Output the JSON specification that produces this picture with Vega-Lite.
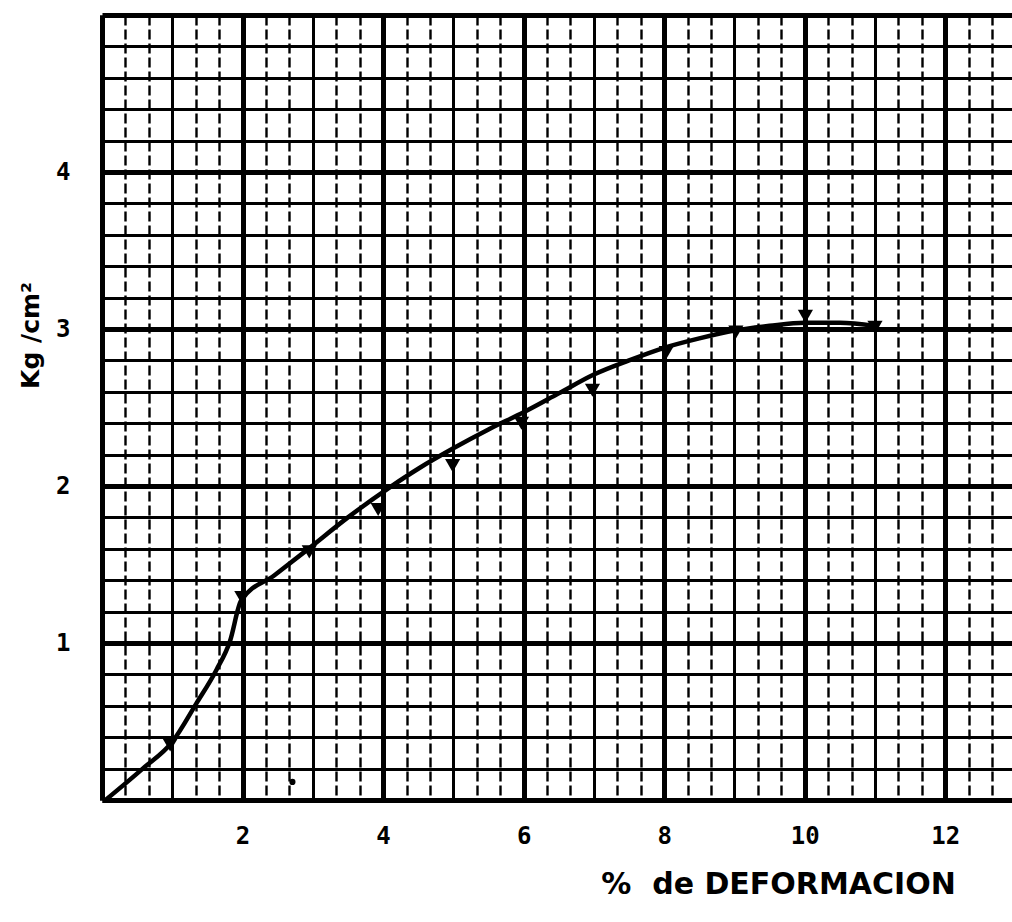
{
  "$schema": "https://vega.github.io/schema/vega-lite/v6.json",
  "width": 910,
  "height": 785,
  "autosize": {"type": "none"},
  "padding": {"left": 102, "top": 15, "right": 0, "bottom": 122},
  "background": "white",
  "config": {"view": {"stroke": null}},
  "datasets": {
    "curve": [
      {"x": 0.05, "y": 0.0},
      {"x": 0.58, "y": 0.2},
      {"x": 1.0, "y": 0.37},
      {"x": 1.35, "y": 0.62},
      {"x": 1.63, "y": 0.83},
      {"x": 1.82, "y": 1.01},
      {"x": 1.98, "y": 1.27},
      {"x": 2.45, "y": 1.43},
      {"x": 2.91, "y": 1.59},
      {"x": 3.5, "y": 1.8},
      {"x": 4.09, "y": 1.99},
      {"x": 4.5, "y": 2.11},
      {"x": 5.0, "y": 2.24},
      {"x": 5.5, "y": 2.36},
      {"x": 6.0, "y": 2.47},
      {"x": 6.5, "y": 2.59},
      {"x": 7.0, "y": 2.71},
      {"x": 7.5, "y": 2.8},
      {"x": 8.0, "y": 2.88},
      {"x": 8.5, "y": 2.94},
      {"x": 9.0, "y": 2.99},
      {"x": 9.5, "y": 3.02},
      {"x": 10.0, "y": 3.04},
      {"x": 10.5, "y": 3.04},
      {"x": 11.0, "y": 3.02}
    ],
    "points": [
      {"x": 0.97, "y": 0.35},
      {"x": 1.99, "y": 1.29},
      {"x": 2.95, "y": 1.58},
      {"x": 3.93, "y": 1.85},
      {"x": 4.99, "y": 2.13},
      {"x": 5.97, "y": 2.4},
      {"x": 6.98, "y": 2.61},
      {"x": 8.03, "y": 2.85},
      {"x": 9.02, "y": 2.98},
      {"x": 10.01, "y": 3.08},
      {"x": 11.0, "y": 3.01}
    ],
    "stray": [
      {"x": 2.71, "y": 0.115}
    ]
  },
  "layer": [
    {
      "data": {"name": "curve"},
      "mark": {"type": "line", "color": "black", "strokeWidth": 4.5, "interpolate": "monotone"},
      "encoding": {
        "x": {
          "field": "x",
          "type": "quantitative",
          "scale": {"domain": [0, 12.95], "nice": false, "zero": false},
          "axis": {
            "values": [0, 0.3333, 0.6667, 1, 1.3333, 1.6667, 2, 2.3333, 2.6667, 3, 3.3333, 3.6667, 4, 4.3333, 4.6667, 5, 5.3333, 5.6667, 6, 6.3333, 6.6667, 7, 7.3333, 7.6667, 8, 8.3333, 8.6667, 9, 9.3333, 9.6667, 10, 10.3333, 10.6667, 11, 11.3333, 11.6667, 12, 12.3333, 12.6667],
            "tickCount": 200,
            "grid": true,
            "gridColor": "black",
            "gridOpacity": 1,
            "gridWidth": {
              "condition": [
                {"test": "abs(datum.value/2 - round(datum.value/2)) < 0.01", "value": 5},
                {"test": "abs(datum.value - round(datum.value)) < 0.01", "value": 3}
              ],
              "value": 2.4
            },
            "gridDash": {
              "condition": {"test": "abs(datum.value - round(datum.value)) < 0.01", "value": []},
              "value": [10, 4]
            },
            "ticks": false,
            "domain": true,
            "domainColor": "black",
            "domainWidth": 5,
            "labelExpr": "(abs(datum.value/2 - round(datum.value/2)) < 0.01 && datum.value > 0.5) ? '' + round(datum.value) : ''",
            "labelOverlap": false,
            "labelFlush": false,
            "labelBound": false,
            "labelPadding": 24,
            "labelFont": "DejaVu Sans Mono",
            "labelFontWeight": "bold",
            "labelFontSize": 24,
            "labelColor": "black",
            "title": "%\u00a0 de DEFORMACION",
            "titleFont": "DejaVu Sans",
            "titleFontWeight": "bold",
            "titleFontSize": 30,
            "titleColor": "black",
            "titleX": 676,
            "titleY": 93,
            "titleAlign": "center",
            "titleBaseline": "alphabetic"
          }
        },
        "y": {
          "field": "y",
          "type": "quantitative",
          "scale": {"domain": [0, 5], "nice": false, "zero": false},
          "axis": {
            "values": [0, 0.2, 0.4, 0.6, 0.8, 1, 1.2, 1.4, 1.6, 1.8, 2, 2.2, 2.4, 2.6, 2.8, 3, 3.2, 3.4, 3.6, 3.8, 4, 4.2, 4.4, 4.6, 4.8, 5],
            "tickCount": 200,
            "grid": true,
            "gridColor": "black",
            "gridOpacity": 1,
            "gridWidth": {
              "condition": {"test": "abs(datum.value - round(datum.value)) < 0.01", "value": 5},
              "value": 3
            },
            "ticks": false,
            "domain": true,
            "domainColor": "black",
            "domainWidth": 5,
            "labelExpr": "(abs(datum.value - round(datum.value)) < 0.01 && datum.value > 0.5 && datum.value < 4.5) ? '' + round(datum.value) : ''",
            "labelOverlap": false,
            "labelFlush": false,
            "labelBound": false,
            "labelPadding": 32,
            "labelFont": "DejaVu Sans Mono",
            "labelFontWeight": "bold",
            "labelFontSize": 24,
            "labelColor": "black",
            "title": "Kg /cm²",
            "titleFont": "DejaVu Sans",
            "titleFontWeight": "bold",
            "titleFontSize": 25,
            "titleColor": "black",
            "titleAngle": -90,
            "titleX": -72,
            "titleY": 320,
            "titleAlign": "center",
            "titleBaseline": "middle"
          }
        }
      }
    },
    {
      "data": {"name": "points"},
      "mark": {"type": "point", "shape": "triangle-down", "filled": true, "color": "black", "size": 230, "opacity": 1},
      "encoding": {
        "x": {"field": "x", "type": "quantitative"},
        "y": {"field": "y", "type": "quantitative"}
      }
    },
    {
      "data": {"name": "stray"},
      "mark": {"type": "circle", "color": "black", "size": 38, "opacity": 1},
      "encoding": {
        "x": {"field": "x", "type": "quantitative"},
        "y": {"field": "y", "type": "quantitative"}
      }
    }
  ]
}
